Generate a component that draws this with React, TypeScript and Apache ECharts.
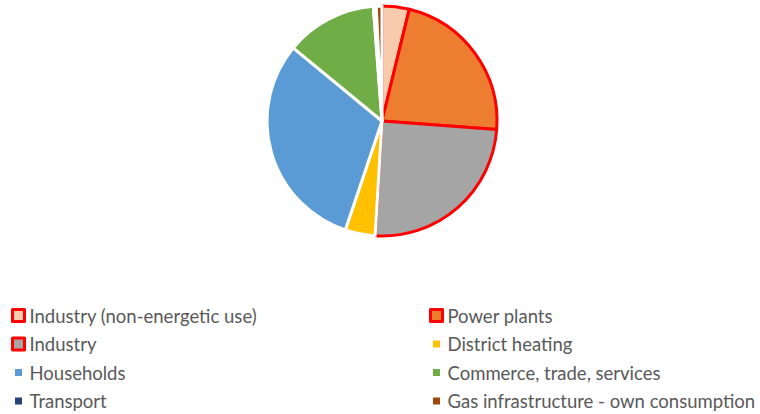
import React, { useEffect, useRef } from "react";
import * as echarts from "echarts";

const categories = [
  "Industry (non-energetic use)",
  "Power plants",
  "Industry",
  "District heating",
  "Households",
  "Commerce, trade, services",
  "Transport",
  "Gas infrastructure - own consumption",
];
const values = [3.8, 22.3, 24.7, 4.2, 30.7, 12.8, 0.4, 0.8];
const colors = ["#F8CBAD", "#ED7D31", "#A5A5A5", "#FFC000", "#5B9BD5", "#70AD47", "#264478", "#9E480E"];
const highlighted = [true, true, true, false, false, false, false, false];

export default function App() {
  const ref = useRef<HTMLDivElement>(null);
  useEffect(() => {
    if (!ref.current) return;
    const chart = echarts.init(ref.current, undefined, { renderer: "svg" });
    const data = categories.map((name, i) => ({
      name,
      value: values[i],
      itemStyle: {
        color: colors[i],
        borderColor: highlighted[i] ? "#FF0000" : "#FFFFFF",
        borderWidth: 3,
      },
    }));
    const legendItem = (i: number) => ({
      name: categories[i],
      itemStyle: highlighted[i]
        ? { borderColor: "#FF0000", borderWidth: 3 }
        : { borderColor: "#FFFFFF", borderWidth: 5 },
    });
    const legendCommon = {
      orient: "vertical" as const,
      top: 301,
      height: 120,
      itemWidth: 12,
      itemHeight: 12,
      itemGap: 9.5,
      icon: "rect",
      selectedMode: false,
      textStyle: { color: "#595959", fontSize: 18.5, fontFamily: "Lato" },
    };
    chart.setOption({
      animation: false,
      legend: [
        { ...legendCommon, left: 5, itemGap: 9.5, data: [0, 2, 4, 6].map(legendItem) },
        { ...legendCommon, left: 423, data: [1, 3, 5, 7].map(legendItem) },
      ],
      series: [
        {
          type: "pie",
          center: [382, 121],
          radius: 115,
          startAngle: 90,
          clockwise: true,
          label: { show: false },
          labelLine: { show: false },
          emphasis: { disabled: true },
          data,
        },
      ],
    });
    return () => chart.dispose();
  }, []);
  return <div ref={ref} style={{ width: 760, height: 414, position: "absolute", left: 0, top: 0 }} />;
}
